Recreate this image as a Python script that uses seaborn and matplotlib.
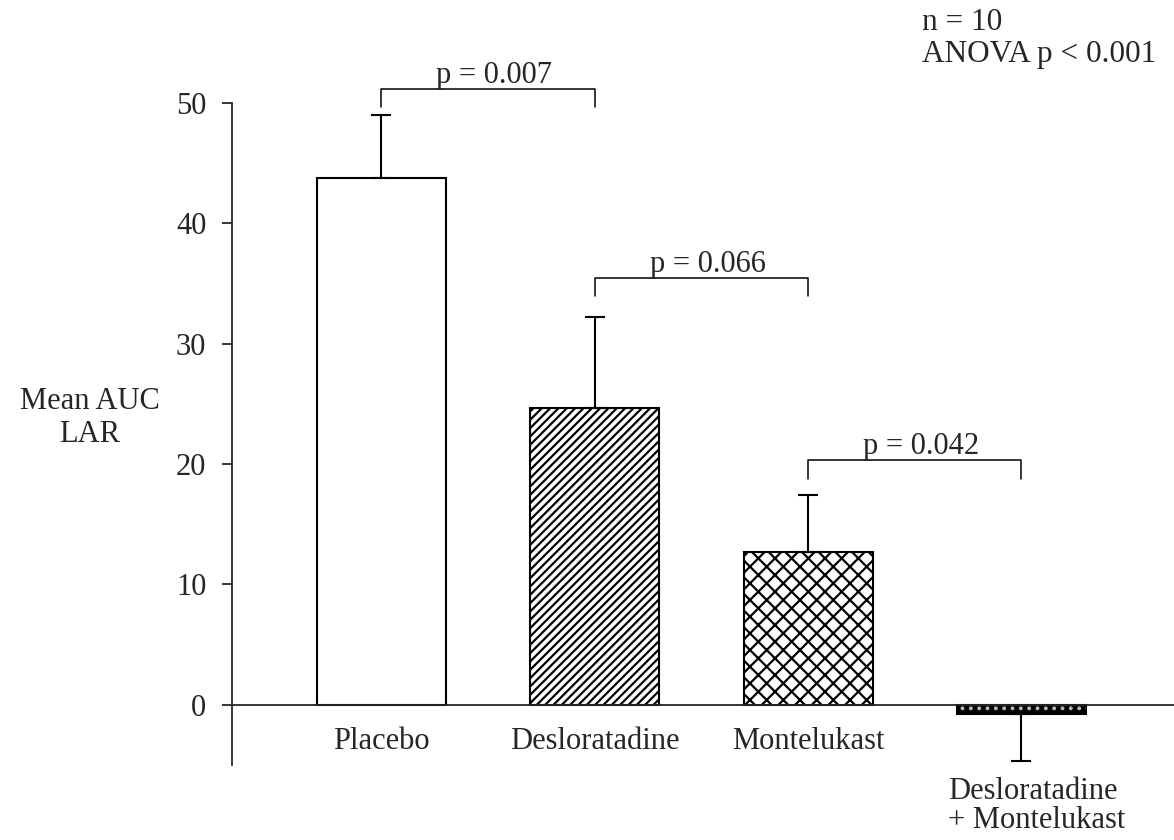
import matplotlib
matplotlib.use("Agg")
import matplotlib.pyplot as plt
import seaborn as sns
import pandas as pd
import numpy as np

# Treatment groups and their mean AUC of the late asthmatic response
groups = ["Placebo", "Desloratadine", "Montelukast", "Desloratadine\n+ Montelukast"]
means = [43.8, 24.7, 12.7, -0.8]
sems = [5.2, 7.5, 4.7, 3.9]
hatches = ["", "////", "xx", "."]

# Pairwise comparisons: (left group, right group, label, bracket height)
comparisons = [
    (0, 1, "p = 0.007", 51.2),
    (1, 2, "p = 0.066", 35.5),
    (2, 3, "p = 0.042", 20.3),
]
bracket_drop = 1.5

y_ticks = [0, 10, 20, 30, 40, 50]
y_label_lines = ["Mean AUC", "LAR"]
note_lines = ["n = 10", "ANOVA p < 0.001"]

FS = 22

sns.set_style("ticks")
plt.rcParams["font.family"] = ["Liberation Serif", "DejaVu Serif"]
plt.rcParams["hatch.linewidth"] = 1.6

df = pd.DataFrame({"group": groups, "mean": means})

W, H = 1174, 840
fig = plt.figure(figsize=(W / 100, H / 100), dpi=100)
ax = fig.add_axes([232 / W, 1 - 765 / H, 1 - 232 / W, (765 - 103) / H])

sns.barplot(data=df, x="group", y="mean", order=groups, color="white",
            width=0.605, edgecolor="black", linewidth=1.5, errorbar=None,
            saturation=1, ax=ax)

for patch, h in zip(ax.patches, hatches):
    if h == ".":
        patch.set_facecolor("black")
        # light dotted texture on top of the solid black fill
        ax.bar(patch.get_x() + patch.get_width() / 2, patch.get_height(),
               width=patch.get_width(), facecolor="none", edgecolor="#b4b4b4",
               hatch="..", linewidth=0, zorder=patch.get_zorder() + 0.1)
    else:
        patch.set_hatch(h)

# One-sided error bars: upward for positive means, downward for negative
x = np.arange(len(groups))
lower = [s if m < 0 else 0 for m, s in zip(means, sems)]
upper = [s if m >= 0 else 0 for m, s in zip(means, sems)]
ax.errorbar(x, means, yerr=[lower, upper], fmt="none", ecolor="black",
            elinewidth=1.5, capsize=7.5, capthick=1.5, zorder=1)

# Significance brackets
for i, j, label, yb in comparisons:
    ax.plot([i, i, j, j], [yb - bracket_drop, yb, yb, yb - bracket_drop],
            color="black", lw=1.1, clip_on=False)
    ax.text((i + j) / 2 + 0.03, yb + 0.5, label, ha="center", va="baseline",
            fontsize=FS, clip_on=False)

ax.set_xlim(-0.70, 3.715)
ax.set_ylim(-5, 50)
ax.set_yticks(y_ticks)
ax.set_yticklabels([str(t) for t in y_ticks])
ax.tick_params(axis="y", direction="out", length=7.5, width=1.3, pad=11,
               labelsize=FS)

ax.set_xticks(x[:3])
ax.set_xticklabels(groups[:3])
ax.tick_params(axis="x", length=0, pad=16, labelsize=FS)

# The combined group's label sits below its downward error bar
combo_lines = groups[3].split("\n")
for k, line in enumerate(combo_lines):
    ax.text(2.655, -7.85 - 2.4 * k, line, ha="left", va="baseline",
            fontsize=FS)

ax.set_xlabel("")
ax.set_ylabel("")
for k, line in enumerate(y_label_lines):
    fig.text(90 / W, 1 - (409 + 33 * k) / H, line, ha="center",
             va="baseline", fontsize=FS)
for k, line in enumerate(note_lines):
    fig.text(922 / W, 1 - (30 + 32 * k) / H, line, ha="left",
             va="baseline", fontsize=FS + 0.5)

ax.spines["top"].set_visible(False)
ax.spines["right"].set_visible(False)
ax.spines["bottom"].set_position(("data", 0))
for s in ("left", "bottom"):
    ax.spines[s].set_linewidth(1.3)

fig.savefig("out.png", dpi=100)
